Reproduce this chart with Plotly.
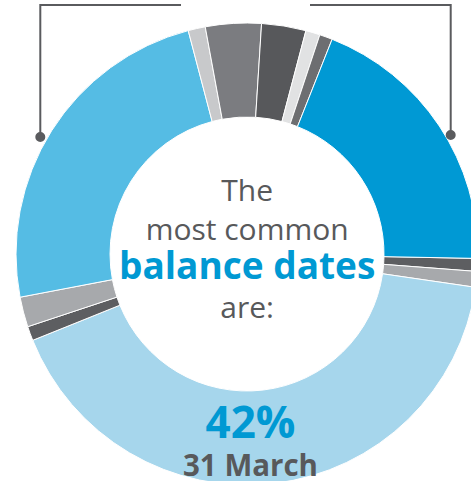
import plotly.graph_objects as go

# Balance-date share by month (percent), clockwise starting with January
months = ["January", "February", "March", "April", "May", "June",
          "July", "August", "September", "October", "November", "December"]
shares = [0.9, 1.1, 41.6, 1.0, 2.1, 23.9, 1.2, 3.9, 3.1, 1.0, 0.9, 19.3]
colors = ["#5D5E61", "#A7A9AC", "#A6D6EC", "#5D5E61", "#A7A9AC", "#55BCE4",
          "#C8C9CB", "#7B7C80", "#57585B", "#E1E2E3", "#6D6E71", "#0099D4"]

center_lines = ["The", "most common", "balance dates", "are:"]
top_month = "31 March"

# figure is slightly larger than the 471x481 window; the ring is cropped like the original
W, H = 478, 486
GRAY = "#58595B"
BLUE = "#0099D3"
FONT = "Open Sans"

fig = go.Figure(go.Pie(
    labels=months,
    values=shares,
    sort=False,
    direction="clockwise",
    rotation=91.1,
    hole=0.593,
    marker=dict(colors=colors, line=dict(color="white", width=1)),
    textinfo="none",
    hoverinfo="label+percent",
    domain=dict(x=[16 / W, 1], y=[1 / H, 463 / H]),
    showlegend=False,
))


def px(x):
    return x / W


def py(y):
    return 1 - y / H


center_text = "<br>".join([
    center_lines[0],
    center_lines[1],
    f"<span style='font-size:37px;color:{BLUE}'><b>{center_lines[2]}</b></span>",
    center_lines[3],
])
bottom_text = (f"<span style='font-size:44px;color:{BLUE}'><b>{round(shares[2])}%</b></span>"
               f"<br><b>{top_month}</b>")

ann = [
    dict(text=center_text, x=px(247), y=py(247.6), xref="paper", yref="paper",
         xanchor="center", yanchor="middle", showarrow=False, align="center",
         font=dict(family=FONT, size=30, color=GRAY, weight=400)),
    dict(text=bottom_text, x=px(251), y=py(438.3), xref="paper", yref="paper",
         xanchor="center", yanchor="middle", showarrow=False, align="center",
         font=dict(family=FONT, size=29.5, color=GRAY, weight=400)),
]

LINE = dict(color="#5A5B5E", width=2)
shapes = [
    dict(type="path", xref="paper", yref="paper",
         path=f"M {px(181)} {py(5)} L {px(40.3)} {py(5)} L {px(40.3)} {py(137)}",
         line=LINE),
    dict(type="path", xref="paper", yref="paper",
         path=f"M {px(310)} {py(5)} L {px(450.7)} {py(5)} L {px(450.7)} {py(135)}",
         line=LINE),
    dict(type="circle", xref="paper", yref="paper",
         x0=px(35.3), x1=px(45.3), y0=py(132), y1=py(142),
         fillcolor="#5A5B5E", line=dict(width=0)),
    dict(type="circle", xref="paper", yref="paper",
         x0=px(445.7), x1=px(455.7), y0=py(130), y1=py(140),
         fillcolor="#5A5B5E", line=dict(width=0)),
]

fig.update_layout(
    width=W, height=H,
    margin=dict(l=0, r=0, t=0, b=0),
    paper_bgcolor="white", plot_bgcolor="white",
    annotations=ann, shapes=shapes,
)

fig.write_html(
    "out.html",
    config={"displayModeBar": False},
    post_script="document.body.style.margin='0';document.body.style.overflow='hidden';"
                "document.documentElement.style.overflow='hidden';",
)
